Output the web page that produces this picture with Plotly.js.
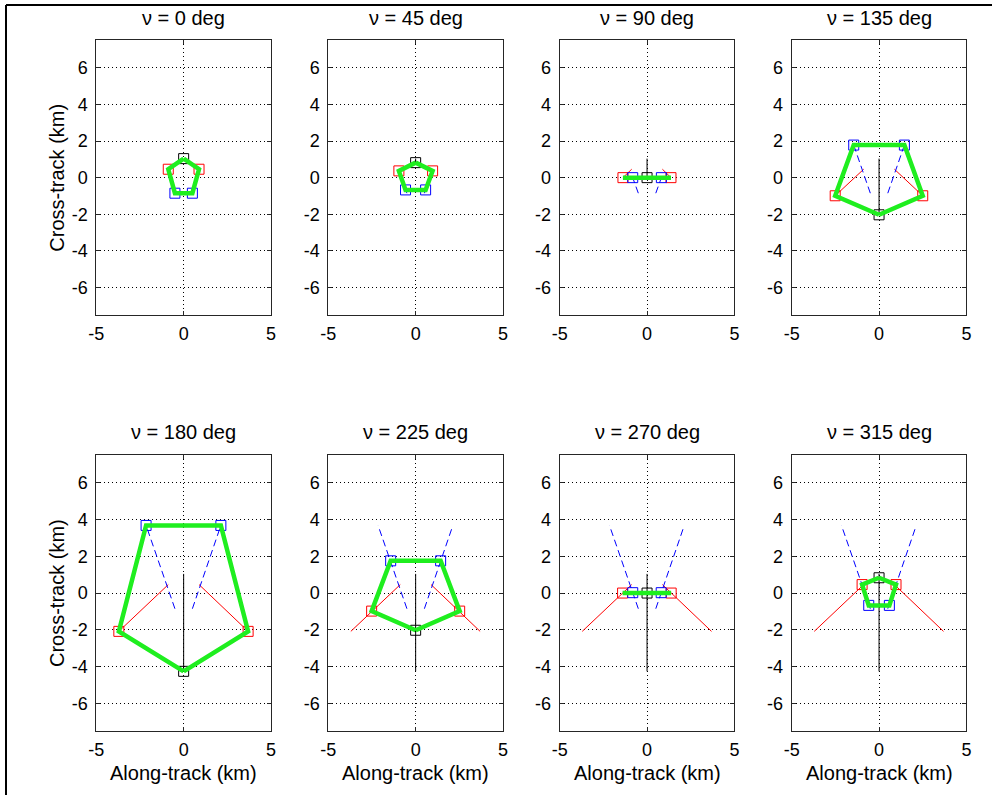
<!DOCTYPE html>
<html><head><meta charset="utf-8">
<script src="https://cdn.plot.ly/plotly-3.0.1.min.js"></script>
<style>html,body{margin:0;padding:0;background:#fff}#chart{width:992px;height:795px}</style>
</head><body><div id="chart"></div>
<script>
// True anomaly of each snapshot (deg)
const nuDeg = [0, 45, 90, 135, 180, 225, 270, 315];

// Satellite positions (km) for each snapshot: [along-track x, cross-track y]
const blackX = [0, 0, 0, 0, 0, 0, 0, 0];
const blackY = [1.04, 0.82, 0.0, -2.03, -4.25, -2.02, 0.0, 0.83];
const redLX  = [-0.88, -0.96, -1.38, -2.51, -3.71, -2.52, -1.40, -0.97];
const redLY  = [0.46, 0.37, 0.0, -0.99, -2.08, -0.98, 0.0, 0.46];
const redRX  = [0.88, 0.97, 1.37, 2.50, 3.69, 2.52, 1.38, 0.97];
const redRY  = [0.46, 0.37, 0.0, -0.99, -2.08, -0.98, 0.0, 0.46];
const blueLX = [-0.50, -0.58, -0.82, -1.45, -2.15, -1.43, -0.82, -0.59];
const blueLY = [-0.85, -0.67, 0.0, 1.78, 3.67, 1.75, 0.02, -0.67];
const blueRX = [0.50, 0.57, 0.82, 1.45, 2.13, 1.43, 0.81, 0.59];
const blueRY = [-0.85, -0.67, 0.0, 1.78, 3.67, 1.75, 0.02, -0.67];

const xTickVals = [-5, 0, 5];
const yTickVals = [-6, -4, -2, 0, 2, 4, 6];
const xTitle = 'Along-track (km)';
const yTitle = 'Cross-track (km)';

const FONT = '"Liberation Sans", Arial, Helvetica, sans-serif';
const W = 992, H = 795;
const colLeft = [96.3, 328.3, 559.7, 791.7];
const colW = 174.7;
const rowTop = [40.4, 454.9];
const rowH = [274.5, 276.3];
const titleY = [18, 432];

const traces = [];
const annotations = [];
const layout = {
  width: W, height: H,
  margin: {l: 0, r: 0, t: 0, b: 0},
  paper_bgcolor: '#fff', plot_bgcolor: '#fff',
  showlegend: false,
  font: {family: FONT, color: '#000'},
  annotations: annotations,
  shapes: [
    {type: 'line', xref: 'paper', yref: 'paper', x0: 6 / W, x1: 1.01, y0: 1 - 5 / H, y1: 1 - 5 / H, line: {color: '#000', width: 2}},
    {type: 'line', xref: 'paper', yref: 'paper', x0: 6 / W, x1: 6 / W, y0: 1 - 5 / H, y1: -0.01, line: {color: '#000', width: 2}}
  ]
};

const axBase = {
  showline: true, linecolor: '#262626', linewidth: 1, mirror: 'ticks',
  ticks: 'inside', ticklen: 4, tickcolor: '#262626', tickwidth: 1,
  showgrid: true, gridcolor: '#000', gridwidth: 1, griddash: '1px,3px',
  zeroline: false, fixedrange: true,
  tickfont: {family: FONT, size: 18, color: '#000'}
};

for (let k = 0; k < nuDeg.length; k++) {
  const r = Math.floor(k / 4), c = k % 4;
  const sfx = k === 0 ? '' : String(k + 1);
  const xa = 'x' + sfx, ya = 'y' + sfx;
  const xd = [colLeft[c] / W, (colLeft[c] + colW) / W];
  const yd = [1 - (rowTop[r] + rowH[r]) / H, 1 - rowTop[r] / H];
  layout['xaxis' + sfx] = Object.assign({}, axBase, {
    domain: xd, anchor: ya, range: [-5, 5],
    tickmode: 'array', tickvals: xTickVals, ticktext: xTickVals.map(String),
    ticklabelstandoff: 2
  });
  layout['yaxis' + sfx] = Object.assign({}, axBase, {
    domain: yd, anchor: xa, range: [-7.5, 7.5],
    tickmode: 'array', tickvals: yTickVals, ticktext: yTickVals.map(String),
    ticklabelstandoff: 4
  });

  // trails: from the nu=0 position to the farthest excursion reached (nu = 180 deg at most)
  const e = Math.min(k, 4);
  const trail = (xs, ys, color, dash) => traces.push({
    type: 'scatter', mode: 'lines', xaxis: xa, yaxis: ya, hoverinfo: 'skip',
    x: [xs[0], xs[e]], y: [ys[0], ys[e]],
    line: {color: color, width: 1, dash: dash}
  });
  trail(redLX, redLY, '#ff0000', 'solid');
  trail(redRX, redRY, '#ff0000', 'solid');
  trail(blueLX, blueLY, '#0000ff', '7px,4px');
  trail(blueRX, blueRY, '#0000ff', '7px,4px');
  trail(blackX, blackY, '#000000', 'solid');

  // satellite markers
  const mk = (xs, ys, color) => traces.push({
    type: 'scatter', mode: 'markers', xaxis: xa, yaxis: ya, hoverinfo: 'skip',
    x: xs, y: ys,
    marker: {symbol: 'square-open', size: 10, color: color, line: {color: color, width: 1}}
  });
  mk([redLX[k], redRX[k]], [redLY[k], redRY[k]], '#ff0000');
  mk([blueLX[k], blueRX[k]], [blueLY[k], blueRY[k]], '#0000ff');
  mk([blackX[k]], [blackY[k]], '#000000');

  // formation outline
  traces.push({
    type: 'scatter', mode: 'lines', xaxis: xa, yaxis: ya, hoverinfo: 'skip',
    x: [blackX[k], redRX[k], blueRX[k], blueLX[k], redLX[k], blackX[k]],
    y: [blackY[k], redRY[k], blueRY[k], blueLY[k], redLY[k], blackY[k]],
    line: {color: '#1fee1f', width: 4.5, shape: 'linear'}
  });

  const cx = (colLeft[c] + colW / 2) / W;
  annotations.push({
    xref: 'paper', yref: 'paper', x: cx, y: 1 - titleY[r] / H,
    xanchor: 'center', yanchor: 'middle', showarrow: false,
    text: '\u03bd = ' + nuDeg[k] + ' deg', font: {family: FONT, size: 20, color: '#000'}
  });
  if (r === 1) {
    annotations.push({
      xref: 'paper', yref: 'paper', x: cx, y: 1 - 773 / H,
      xanchor: 'center', yanchor: 'middle', showarrow: false,
      text: xTitle, font: {family: FONT, size: 20, color: '#000'}
    });
  }
  if (c === 0) {
    annotations.push({
      xref: 'paper', yref: 'paper', x: 57 / W, y: 1 - (rowTop[r] + rowH[r] / 2) / H,
      xanchor: 'center', yanchor: 'middle', showarrow: false, textangle: -90,
      text: yTitle, font: {family: FONT, size: 20, color: '#000'}
    });
  }
}

Plotly.newPlot('chart', traces, layout, {displayModeBar: false, staticPlot: true});
</script>
</body></html>
